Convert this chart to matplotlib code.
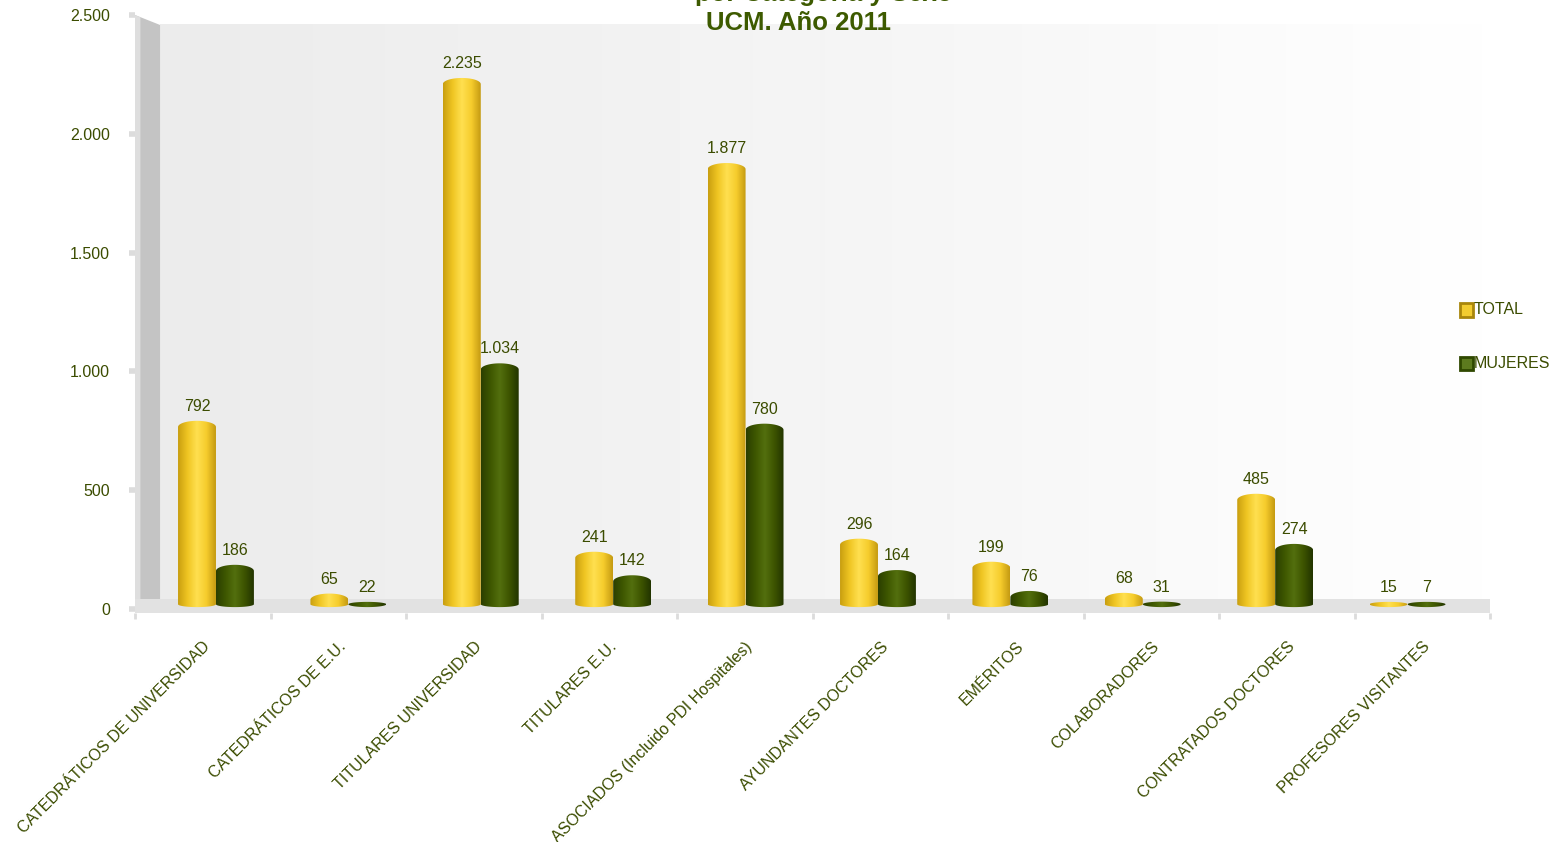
import matplotlib
matplotlib.use("Agg")
import matplotlib.pyplot as plt
import numpy as np
from matplotlib.colors import LinearSegmentedColormap
from matplotlib.patches import PathPatch, Polygon, Rectangle
from matplotlib.path import Path

plt.rcParams['font.family'] = ['Liberation Sans', 'DejaVu Sans']

categorias = ["CATEDRÁTICOS DE UNIVERSIDAD", "CATEDRÁTICOS DE E.U.", "TITULARES UNIVERSIDAD",
              "TITULARES E.U.", "ASOCIADOS (Incluido PDI Hospitales)", "AYUNDANTES DOCTORES",
              "EMÉRITOS", "COLABORADORES", "CONTRATADOS DOCTORES", "PROFESORES VISITANTES"]
total = [792, 65, 2235, 241, 1877, 296, 199, 68, 485, 15]
mujeres = [186, 22, 1034, 142, 780, 164, 76, 31, 274, 7]
series = ["TOTAL", "MUJERES"]

txt_color = "#3b4c00"
title_color = "#3d5a00"

cmap_total = LinearSegmentedColormap.from_list(
    "gold", ["#c89e10", "#efc522", "#ffe050", "#f6cc2c", "#c49a12"], N=256)
cmap_muj = LinearSegmentedColormap.from_list(
    "green", ["#2a3e00", "#3e5700", "#536f0e", "#3d5400", "#223400"], N=256)

ymin, ymax = -15, 2500
px_per_unit = 594 / 2500
ax_bottom = 609 - ymin * px_per_unit
ax_top = 15

fig = plt.figure(figsize=(15.58, 8.42), dpi=100)
ax = fig.add_axes([135 / 1558, 1 - ax_bottom / 842, 1355 / 1558, (ax_bottom - ax_top) / 842])
ax.set_facecolor("none")

depth_x = 0.185      # side wall depth (data units)
wall_top = 2458
base = 20            # bars stand slightly above the zero line (3D floor)

# back wall with soft gradient
grad = np.linspace(0, 1, 256).reshape(1, -1)
wall_cmap = LinearSegmentedColormap.from_list("wall", ["#ececec", "#f5f5f5", "#ffffff"])
ax.imshow(grad, extent=[-0.5 + depth_x, 9.5, 40, wall_top], aspect="auto",
          cmap=wall_cmap, zorder=0, interpolation="bilinear")

# left side wall
ax.add_patch(Polygon([(-0.5, 0), (-0.5, ymax), (-0.5 + depth_x, wall_top),
                      (-0.5 + depth_x, 40)], closed=True, fc="#c4c4c4", ec="none", zorder=1))
ax.add_patch(Polygon([(-0.5, 0), (-0.5, ymax), (-0.46, ymax - 10), (-0.46, 0)],
                     closed=True, fc="#dedede", ec="none", zorder=1))
# floor
ax.add_patch(Rectangle((-0.5, -15), 10.0, 55, fc="#e2e2e2", ec="none", zorder=1))


def bar_path(x0, w, v, ry, ryb=12):
    t = np.linspace(0, np.pi, 40)
    cx = x0 + w / 2
    v = max(v, base + 10)
    ry = min(ry, v - base)
    top = v - ry
    verts = [(x0 + w, base), (x0 + w, top)]
    verts += list(zip(cx + (w / 2) * np.cos(t), top + ry * np.sin(t)))
    verts += [(x0, base)]
    verts += list(zip(cx - (w / 2) * np.cos(t), base - ryb * np.sin(t)))
    verts += [(x0 + w, base)]
    codes = [Path.MOVETO] + [Path.LINETO] * (len(verts) - 2) + [Path.CLOSEPOLY]
    return Path(verts, codes)


w = 0.28
step = 132.4 / 135.5
first = (197 - 135) / 135.5 - 0.5
for vals, cmap, dx in [(total, cmap_total, 0.0), (mujeres, cmap_muj, w)]:
    for i, v in enumerate(vals):
        xc = first + i * step + dx
        x0 = xc - w / 2
        patch = PathPatch(bar_path(x0, w, v, 26), fc="none", ec="none", zorder=3)
        ax.add_patch(patch)
        im = ax.imshow(grad, extent=[x0, x0 + w, -10, max(v, base + 10) + 10], aspect="auto",
                       cmap=cmap, zorder=3, interpolation="bilinear")
        im.set_clip_path(patch)
        lbl = f"{v:,}".replace(",", ".")
        ax.annotate(lbl, (xc, max(v, base + 10)), xytext=(0, 5), textcoords="offset points",
                    ha="center", va="bottom", fontsize=11.5, color=txt_color, zorder=5)

ax.set_xlim(-0.5, 9.5)
ax.set_ylim(ymin, ymax)
for s in ax.spines.values():
    s.set_visible(False)

ax.set_yticks(np.arange(0, 2501, 500))
ax.set_yticklabels([f"{t:,}".replace(",", ".") for t in range(0, 2501, 500)])
ax.tick_params(axis="y", length=4, width=4, color="#dcdcdc", pad=14,
               labelsize=11.5, labelcolor=txt_color)

ax.set_xticks(range(len(categorias)))
ax.set_xticklabels(categorias, rotation=45, ha="right", va="top",
                   rotation_mode="anchor")
ax.tick_params(axis="x", length=0, pad=19, labelsize=11.5, labelcolor=txt_color)
ax.set_xticks(np.arange(-0.5, 9.6, 1), minor=True)
ax.tick_params(axis="x", which="minor", length=4, width=2, color="#dcdcdc")

# title (top line is cut by the figure edge, as in the original)
fig.text(824 / 1558, 1 - 1 / 842, "por Categoría y Sexo", ha="center", va="baseline",
         fontsize=18.5, fontweight="bold", color=title_color)
fig.text(798 / 1558, 1 - 30 / 842, "UCM. Año 2011", ha="center", va="baseline",
         fontsize=18.5, fontweight="bold", color=title_color)

# legend
leg_cols = [("#a8860c", "#f2cc30"), ("#2f4800", "#5c7a1e")]
for k, (name, (edge, face)) in enumerate(zip(series, leg_cols)):
    yc = 310 + k * 53
    fig.patches.append(Rectangle((1460 / 1558, 1 - (yc + 6.5) / 842), 13 / 1558, 13 / 842,
                                 transform=fig.transFigure, fc=face, ec=edge, lw=2))
    fig.text(1474 / 1558, 1 - yc / 842, name, ha="left", va="center",
             fontsize=11.5, color=txt_color)

fig.savefig("out.png", dpi=100, facecolor="white")
